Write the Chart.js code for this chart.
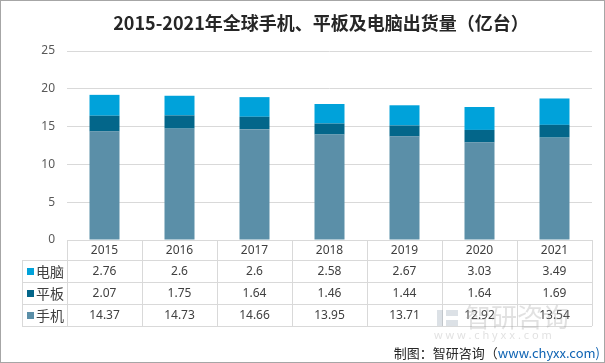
<!DOCTYPE html>
<html>
<head>
<meta charset="utf-8">
<script src="https://cdn.jsdelivr.net/npm/chart.js@4.4.1/dist/chart.umd.min.js"></script>
<style>
  html, body { margin: 0; padding: 0; background: #fff; }
  #wrap { width: 605px; height: 363px; position: relative; }
</style>
</head>
<body>
<div id="wrap"><canvas id="chart" width="605" height="363"></canvas></div>
<script>
const years = ['2015', '2016', '2017', '2018', '2019', '2020', '2021'];
const pcData = [2.76, 2.6, 2.6, 2.58, 2.67, 3.03, 3.49];
const tabletData = [2.07, 1.75, 1.64, 1.46, 1.44, 1.64, 1.69];
const phoneData = [14.37, 14.73, 14.66, 13.95, 13.71, 12.92, 13.54];
const yTicks = [0, 5, 10, 15, 20, 25];
const titleText = '2015-2021年全球手机、平板及电脑出货量（亿台）';

const cjk = '"Noto Sans CJK SC", "Noto Sans", sans-serif';
const num = '"Noto Sans", "DejaVu Sans", sans-serif';

// table rows in the order they appear under the chart
const tableRows = [
    { label: '电脑', color: '#00a2da', values: pcData },
    { label: '平板', color: '#03668a', values: tabletData },
    { label: '手机', color: '#5b8fa8', values: phoneData }
];

// draws the title, data table, watermark, source note and frame
const tablePlugin = {
    id: 'dataTable',
    afterDraw(chart) {
        const ctx = chart.ctx;
        const x = chart.scales.x;
        const area = chart.chartArea;
        const colW = (area.right - area.left) / years.length;
        const top = area.bottom;
        const headH = 20, rowH = 22;
        const legendLeft = 22;
        const bottom = top + headH + rowH * tableRows.length;

        ctx.save();
        // title
        ctx.fillStyle = '#262626';
        ctx.textAlign = 'center';
        ctx.textBaseline = 'middle';
        ctx.font = 'bold 18px ' + cjk;
        ctx.fillText(titleText, 321, 23);

        ctx.strokeStyle = '#d9d9d9';
        ctx.lineWidth = 1;
        ctx.beginPath();
        // horizontal lines
        ctx.moveTo(area.left, top + 0.5); ctx.lineTo(area.right, top + 0.5);
        for (let i = 0; i <= tableRows.length; i++) {
            const y = Math.round(top + headH + rowH * i) + 0.5;
            ctx.moveTo(legendLeft, y); ctx.lineTo(area.right, y);
        }
        // vertical lines
        for (let i = 0; i <= years.length; i++) {
            const vx = Math.round(area.left + colW * i) + 0.5;
            ctx.moveTo(vx, top); ctx.lineTo(vx, bottom);
        }
        ctx.moveTo(legendLeft + 0.5, top + headH); ctx.lineTo(legendLeft + 0.5, bottom);
        ctx.stroke();

        ctx.fillStyle = '#404040';
        ctx.font = '12px ' + num;
        years.forEach((yr, i) => {
            ctx.fillText(yr, x.getPixelForValue(i), top + headH / 2 + 1);
        });
        tableRows.forEach((row, r) => {
            const cy = top + headH + rowH * r + rowH / 2 + 1;
            ctx.font = '12px ' + num;
            ctx.textAlign = 'center';
            ctx.fillStyle = '#404040';
            row.values.forEach((v, i) => {
                ctx.fillText(String(v), x.getPixelForValue(i), cy);
            });
            ctx.fillStyle = row.color;
            ctx.fillRect(legendLeft + 5, cy - 4, 7, 7);
            ctx.fillStyle = '#404040';
            ctx.textAlign = 'left';
            ctx.font = '14px ' + cjk;
            ctx.fillText(row.label, legendLeft + 14, cy);
        });

        // faint watermark
        ctx.globalAlpha = 0.3;
        ctx.fillStyle = '#8a9aac';
        ctx.fillRect(437, 310, 6, 16);
        ctx.fillRect(446, 310, 12, 6);
        ctx.fillRect(446, 320, 12, 6);
        ctx.font = '26px ' + cjk;
        ctx.textAlign = 'left';
        ctx.fillStyle = '#9a9a9a';
        ctx.fillText('智研咨询', 465, 317);
        ctx.font = '11px ' + num;
        ctx.fillText('w w w . c h y x x . c o m', 434, 336);
        ctx.globalAlpha = 1;

        // source note
        ctx.textAlign = 'right';
        ctx.font = '13px ' + cjk;
        ctx.fillStyle = '#0e63b3';
        ctx.fillText('www.chyxx.com)', 600, 353);
        const w = ctx.measureText('www.chyxx.com)').width;
        ctx.fillStyle = '#262626';
        ctx.fillText('制图：智研咨询（', 600 - w, 353);

        // frame
        ctx.strokeStyle = '#a6a6a6';
        ctx.strokeRect(0.5, 0.5, 604, 362);
        ctx.restore();
    }
};

const ctx = document.getElementById('chart').getContext('2d');

new Chart(ctx, {
    type: 'bar',
    data: {
        labels: years,
        datasets: [
            { label: '手机', data: phoneData, backgroundColor: '#5b8fa8' },
            { label: '平板', data: tabletData, backgroundColor: '#03668a' },
            { label: '电脑', data: pcData, backgroundColor: '#00a2da' }
        ]
    },
    options: {
        responsive: false,
        animation: false,
        layout: { padding: { left: 0, right: 13, top: 51, bottom: 123 } },
        datasets: { bar: { categoryPercentage: 1, barPercentage: 0.4 } },
        scales: {
            x: { stacked: true, display: false },
            y: {
                stacked: true,
                min: 0,
                max: 25,
                afterBuildTicks: (s) => { s.ticks = yTicks.map(v => ({ value: v })); },
                afterFit: (s) => { s.width = 67; },
                border: { display: false },
                grid: { color: '#d9d9d9', drawTicks: false },
                ticks: { padding: 12, color: '#595959', font: { size: 12, family: num } }
            }
        },
        plugins: {
            legend: { display: false },
            tooltip: { enabled: false },
            title: { display: false }
        }
    },
    plugins: [tablePlugin]
});
</script>
</body>
</html>
